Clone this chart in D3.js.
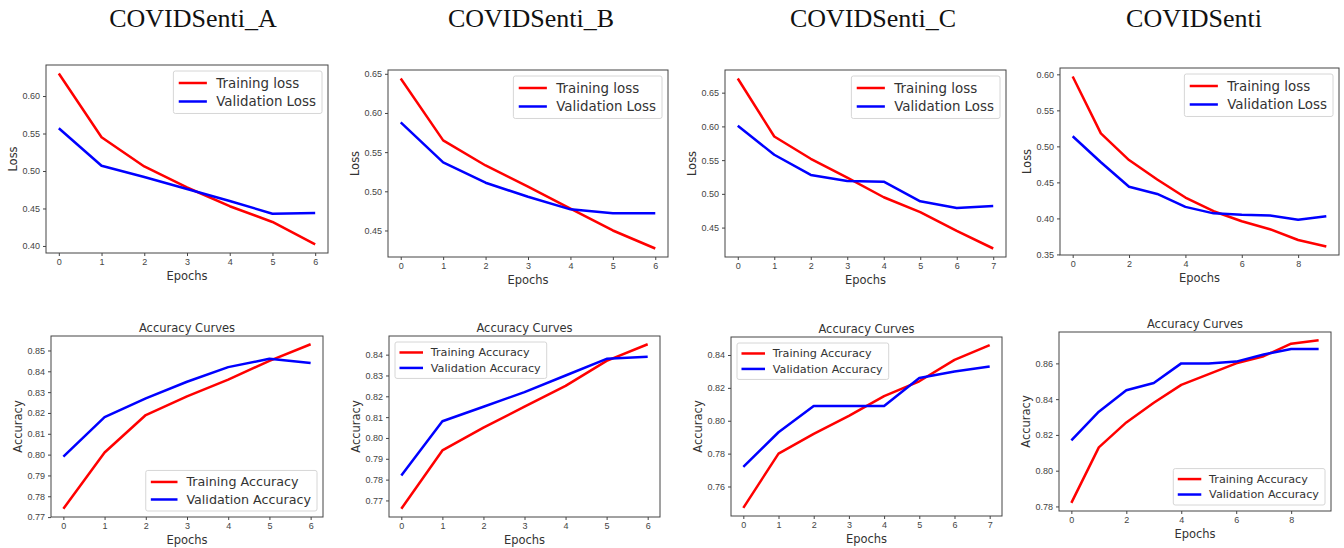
<!DOCTYPE html>
<html lang="en">
<head>
<meta charset="utf-8">
<title>COVIDSenti training curves</title>
<style>
  body { margin: 0; background: #fff; }
  svg { display: block; font-family: 'DejaVu Sans', sans-serif; }
  .tick text { fill: #444; font-size: 9px; }
  .tick line { stroke: #444; }
  .frame { fill: none; stroke: #444; stroke-width: 1; }
  .lab { fill: #333; font-size: 11.5px; }
  .head { font-family: 'Liberation Serif', 'Times New Roman', serif; font-size: 26px; fill: #111; }
</style>
</head>
<body>
<div id="chart"></div>
<script src="https://d3js.org/d3.v7.min.js"></script>
<script>
// column titles
var titles = ["COVIDSenti_A", "COVIDSenti_B", "COVIDSenti_C", "COVIDSenti"];

// loss curves (top row)
var lossTrainA = [0.630, 0.545, 0.506, 0.478, 0.453, 0.432, 0.402];
var lossValA   = [0.557, 0.507, 0.492, 0.476, 0.460, 0.443, 0.444];
var lossTrainB = [0.644, 0.565, 0.533, 0.506, 0.478, 0.450, 0.427];
var lossValB   = [0.588, 0.537, 0.511, 0.493, 0.477, 0.472, 0.472];
var lossTrainC = [0.671, 0.585, 0.552, 0.524, 0.495, 0.473, 0.445, 0.419];
var lossValC   = [0.601, 0.558, 0.528, 0.519, 0.518, 0.489, 0.479, 0.482];
var lossTrainAll = [0.597, 0.518, 0.481, 0.454, 0.429, 0.410, 0.396, 0.385, 0.370, 0.361];
var lossValAll   = [0.514, 0.478, 0.444, 0.434, 0.416, 0.407, 0.405, 0.404, 0.398, 0.403];

// accuracy curves (bottom row)
var accTrainA = [0.774, 0.801, 0.819, 0.828, 0.836, 0.845, 0.853];
var accValA   = [0.799, 0.818, 0.827, 0.835, 0.842, 0.846, 0.844];
var accTrainB = [0.766, 0.794, 0.805, 0.815, 0.825, 0.837, 0.845];
var accValB   = [0.782, 0.808, 0.815, 0.822, 0.830, 0.838, 0.839];
var accTrainC = [0.747, 0.780, 0.792, 0.803, 0.815, 0.824, 0.837, 0.846];
var accValC   = [0.772, 0.793, 0.809, 0.809, 0.809, 0.826, 0.830, 0.833];
var accTrainAll = [0.782, 0.813, 0.827, 0.838, 0.848, 0.854, 0.860, 0.864, 0.871, 0.873];
var accValAll   = [0.817, 0.833, 0.845, 0.849, 0.860, 0.860, 0.861, 0.865, 0.868, 0.868];

// tick values
var lossTicksA = [0.40, 0.45, 0.50, 0.55, 0.60];
var lossTicksB = [0.45, 0.50, 0.55, 0.60, 0.65];
var lossTicksC = [0.45, 0.50, 0.55, 0.60, 0.65];
var lossTicksAll = [0.35, 0.40, 0.45, 0.50, 0.55, 0.60];
var accTicksA = [0.77, 0.78, 0.79, 0.80, 0.81, 0.82, 0.83, 0.84, 0.85];
var accTicksB = [0.77, 0.78, 0.79, 0.80, 0.81, 0.82, 0.83, 0.84];
var accTicksC = [0.76, 0.78, 0.80, 0.82, 0.84];
var accTicksAll = [0.78, 0.80, 0.82, 0.84, 0.86];
var epochTicks7 = [0, 1, 2, 3, 4, 5, 6];
var epochTicks8 = [0, 1, 2, 3, 4, 5, 6, 7];
var epochTicks10 = [0, 2, 4, 6, 8];

var lossNames = ["Training loss", "Validation Loss"];
var accNames = ["Training Accuracy", "Validation Accuracy"];

// layout: plot boxes [left, top, right, bottom]
var panels = [
  { train: lossTrainA, val: lossValA, yt: lossTicksA, xt: epochTicks7, box: [46, 65, 328, 253], ylab: "Loss", names: lossNames, leg: "tr", fs: 13.4 },
  { train: lossTrainB, val: lossValB, yt: lossTicksB, xt: epochTicks7, box: [388, 70, 668, 257], ylab: "Loss", names: lossNames, leg: "tr", fs: 13.4 },
  { train: lossTrainC, val: lossValC, yt: lossTicksC, xt: epochTicks8, box: [725, 70, 1006, 257], ylab: "Loss", names: lossNames, leg: "tr", fs: 13.4 },
  { train: lossTrainAll, val: lossValAll, yt: lossTicksAll, xt: epochTicks10, box: [1060, 68, 1339, 255], ylab: "Loss", names: lossNames, leg: "tr", fs: 13.4 },
  { train: accTrainA, val: accValA, yt: accTicksA, xt: epochTicks7, box: [51, 336, 323, 517], ylab: "Accuracy", names: accNames, leg: "br", fs: 12.7, title: "Accuracy Curves" },
  { train: accTrainB, val: accValB, yt: accTicksB, xt: epochTicks7, box: [389, 336, 660, 517], ylab: "Accuracy", names: accNames, leg: "tl", fs: 11.2, title: "Accuracy Curves" },
  { train: accTrainC, val: accValC, yt: accTicksC, xt: epochTicks8, box: [731, 337, 1002, 516], ylab: "Accuracy", names: accNames, leg: "tl", fs: 11.2, title: "Accuracy Curves" },
  { train: accTrainAll, val: accValAll, yt: accTicksAll, xt: epochTicks10, box: [1059, 332, 1331, 511], ylab: "Accuracy", names: accNames, leg: "br", fs: 11.2, title: "Accuracy Curves" }
];
var titleX = [193, 531, 873, 1194];
var colors = ["#ff0000", "#0000ff"];

var svg = d3.select("#chart").append("svg")
  .attr("width", 1344)
  .attr("height", 548);

titles.forEach(function (t, i) {
  svg.append("text")
    .attr("class", "head")
    .attr("x", titleX[i])
    .attr("y", 27)
    .attr("text-anchor", "middle")
    .text(t);
});

panels.forEach(function (p) {
  var l = p.box[0], t = p.box[1], r = p.box[2], b = p.box[3];
  var n = p.train.length;
  var epochs = d3.range(n);

  // matplotlib-like 5% margins
  var xs = d3.scaleLinear()
    .domain([-(n - 1) * 0.05, (n - 1) * 1.05])
    .range([l, r]);
  var ext = d3.extent(p.train.concat(p.val));
  var pad = (ext[1] - ext[0]) * 0.05;
  var ys = d3.scaleLinear()
    .domain([ext[0] - pad, ext[1] + pad])
    .range([b, t]);

  var g = svg.append("g");

  var xAxis = g.append("g")
    .attr("transform", "translate(0," + b + ")")
    .call(d3.axisBottom(xs).tickValues(p.xt).tickSize(3).tickPadding(3).tickFormat(d3.format("d")));
  xAxis.select(".domain").remove();

  var yAxis = g.append("g")
    .attr("transform", "translate(" + l + ",0)")
    .call(d3.axisLeft(ys).tickValues(p.yt).tickSize(3).tickPadding(3).tickFormat(d3.format(".2f")));
  yAxis.select(".domain").remove();

  var line = d3.line()
    .x(function (d, i) { return xs(epochs[i]); })
    .y(function (d) { return ys(d); });

  [p.train, p.val].forEach(function (s, k) {
    g.append("path")
      .attr("fill", "none")
      .attr("stroke", colors[k])
      .attr("stroke-width", 2.5)
      .attr("stroke-linejoin", "round")
      .attr("d", line(s));
  });

  g.append("rect")
    .attr("class", "frame")
    .attr("x", l).attr("y", t)
    .attr("width", r - l).attr("height", b - t);

  // axis labels
  g.append("text")
    .attr("class", "lab")
    .attr("x", (l + r) / 2)
    .attr("y", b + 27)
    .attr("text-anchor", "middle")
    .text("Epochs");
  g.append("text")
    .attr("class", "lab")
    .attr("transform", "translate(" + (l - 29) + "," + ((t + b) / 2) + ") rotate(-90)")
    .attr("text-anchor", "middle")
    .text(p.ylab);

  if (p.title) {
    g.append("text")
      .attr("class", "lab")
      .attr("x", (l + r) / 2)
      .attr("y", t - 4)
      .attr("text-anchor", "middle")
      .text(p.title);
  }

  // legend
  var fs = p.fs;
  var rowH = fs * 1.38;
  var leg = g.append("g");
  var box = leg.append("rect")
    .attr("rx", 2)
    .attr("fill", "#fff")
    .attr("fill-opacity", 0.85)
    .attr("stroke", "#d6d6d6");
  var maxW = 0;
  p.names.forEach(function (name, k) {
    var cy = 2.75 + rowH / 2 + k * rowH;
    leg.append("line")
      .attr("x1", fs * 0.4).attr("x2", fs * 2.5)
      .attr("y1", cy).attr("y2", cy)
      .attr("stroke", colors[k])
      .attr("stroke-width", 2.5);
    var tx = leg.append("text")
      .attr("x", fs * 3.2)
      .attr("y", cy)
      .attr("dy", "0.35em")
      .style("font-size", fs + "px")
      .attr("fill", "#333")
      .text(name);
    maxW = Math.max(maxW, tx.node().getComputedTextLength());
  });
  var lw = fs * 3.2 + maxW + 6;
  var lh = 2 * rowH + 5.5;
  box.attr("width", lw).attr("height", lh);
  var lx = p.leg.charAt(1) === "r" ? r - 6 - lw : l + 6;
  var ly = p.leg.charAt(0) === "t" ? t + 6 : b - 6 - lh;
  leg.attr("transform", "translate(" + lx + "," + ly + ")");
});
</script>
</body>
</html>
